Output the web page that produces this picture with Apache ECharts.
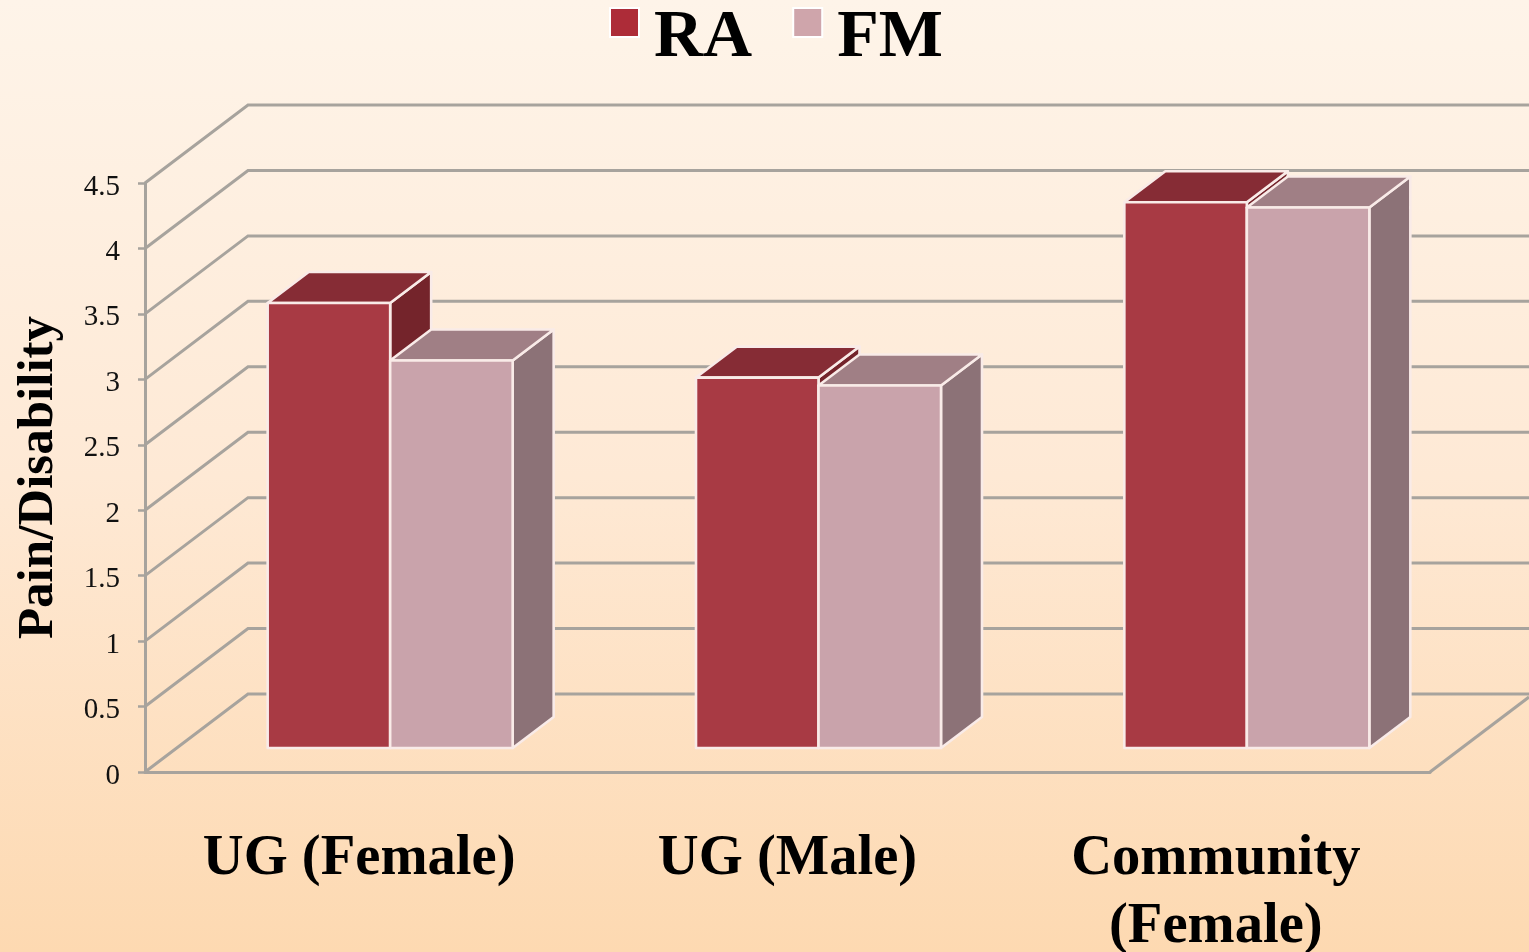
<!DOCTYPE html>
<html>
<head>
<meta charset="utf-8">
<style>html,body{margin:0;padding:0;width:100%;height:100%;overflow:hidden}#c{width:1529px;height:952px}</style>
<script src="https://cdn.jsdelivr.net/npm/echarts@6/dist/echarts.min.js"></script>
</head>
<body>
<div id="c"></div>
<script>
const categories = ['UG (Female)', 'UG (Male)', 'Community\n(Female)'];
const raValues = [3.4, 2.83, 4.17];
const fmValues = [2.96, 2.77, 4.13];
const yTicks = [0, 0.5, 1, 1.5, 2, 2.5, 3, 3.5, 4, 4.5];

const SERIF = '"Liberation Serif", serif';
const WALL = '#a7a39d';
const WALL_X = 103, WALL_Y = 78;     // projection of the back wall
const BAR_DX = 31, BAR_DY = 24;      // bars stand this far into the floor
const DEPTH_X = 41, DEPTH_Y = 31;    // bar depth
const BAR_W = 122.5;
const EDGE = '#f9ebe8';

function wallItem(params, api) {
  const cs = params.coordSys;
  const y = api.coord([0, api.value(1)])[1];
  const x0 = cs.x, x1 = cs.x + WALL_X, xEnd = 1530;
  const children = [{
    type: 'polyline',
    shape: { points: [[x0, y], [x1, y - WALL_Y], [xEnd, y - WALL_Y]] },
    style: { stroke: WALL, lineWidth: 3, fill: null }
  }];
  if (params.dataIndex === 0) {
    const xr = cs.x + cs.width;
    children.push({
      type: 'line',
      shape: { x1: xr, y1: y, x2: xr + 99, y2: y - 75 },
      style: { stroke: WALL, lineWidth: 3 }
    });
  }
  return { type: 'group', children };
}

function barRenderer(side, colors) {
  return function (params, api) {
    const i = api.value(0);
    const cx = api.coord([i, 0])[0] + BAR_DX;
    const yb = api.coord([i, 0])[1] - BAR_DY;
    const yt = api.coord([i, api.value(1)])[1] - BAR_DY;
    const xl = side === 0 ? cx - BAR_W : cx;
    const xr = xl + BAR_W;
    const s = { stroke: EDGE, lineWidth: 2.6, lineJoin: 'round' };
    return {
      type: 'group',
      children: [
        { type: 'polygon', shape: { points: [[xr, yb], [xr + DEPTH_X, yb - DEPTH_Y], [xr + DEPTH_X, yt - DEPTH_Y], [xr, yt]] },
          style: Object.assign({ fill: colors.side }, s) },
        { type: 'polygon', shape: { points: [[xl, yt], [xl + DEPTH_X, yt - DEPTH_Y], [xr + DEPTH_X, yt - DEPTH_Y], [xr, yt]] },
          style: Object.assign({ fill: colors.top }, s) },
        { type: 'rect', shape: { x: xl, y: yt, width: BAR_W, height: yb - yt },
          style: Object.assign({ fill: colors.front }, s) }
      ]
    };
  };
}

const RA_COLORS = { front: '#a83a44', top: '#862c35', side: '#74242b' };
const FM_COLORS = { front: '#c9a3ab', top: '#a07f85', side: '#8c7277' };

const chart = echarts.init(document.getElementById('c'), null, { renderer: 'canvas', width: 1529, height: 952 });
chart.setOption({
  animation: false,
  backgroundColor: {
    type: 'linear', x: 0, y: 0, x2: 0, y2: 1,
    colorStops: [{ offset: 0, color: '#fef4e9' }, { offset: 0.5, color: '#fee9d5' }, { offset: 1, color: '#fdd9b1' }]
  },
  grid: { left: 145, right: 99, top: 183, bottom: 180, outerBoundsMode: 'none' },
  legend: {
    left: 609, top: 4, padding: 0,
    selectedMode: false,
    itemWidth: 29, itemHeight: 29, itemGap: 40,
    icon: 'rect',
    data: [
      { name: 'RA', itemStyle: { color: '#ad2c38', borderColor: '#ffffff', borderWidth: 2 } },
      { name: 'FM', itemStyle: { color: '#cfa5ab', borderColor: '#ffffff', borderWidth: 2 } }
    ],
    formatter: '{a|{name}}',
    textStyle: {
      rich: { a: { fontFamily: SERIF, fontWeight: 'bold', fontSize: 68, color: '#000', padding: [31, 0, 0, 10] } }
    }
  },
  xAxis: {
    type: 'category',
    data: categories,
    axisLine: { show: true, lineStyle: { color: WALL, width: 3 } },
    axisTick: { show: false },
    axisLabel: {
      interval: 0, margin: 53, lineHeight: 68,
      fontFamily: SERIF, fontWeight: 'bold', fontSize: 56.6, color: '#000'
    }
  },
  yAxis: {
    type: 'value', min: 0, max: 4.5, interval: 0.5,
    name: 'Pain/Disability',
    nameLocation: 'middle', nameRotate: 90, nameGap: 81,
    nameTextStyle: { fontFamily: SERIF, fontWeight: 'bold', fontSize: 51, color: '#000' },
    axisLine: { show: true, lineStyle: { color: WALL, width: 3 } },
    axisTick: { show: true, length: 7, lineStyle: { color: WALL, width: 2.5 } },
    axisLabel: {
      margin: 25,
      formatter: v => '{a|' + v + '}',
      rich: { a: { fontFamily: SERIF, fontSize: 29, color: '#111', padding: [8, 0, 0, 0] } }
    },
    splitLine: { show: false }
  },
  series: [
    { name: 'wall', type: 'custom', silent: true, z: 1, renderItem: wallItem,
      encode: { x: 0, y: 1 }, data: yTicks.map(v => [0, v]) },
    { name: 'RA', type: 'custom', z: 2, renderItem: barRenderer(0, RA_COLORS), itemStyle: { color: '#ad2c38' },
      encode: { x: 0, y: 1 }, data: raValues.map((v, i) => [i, v]) },
    { name: 'FM', type: 'custom', z: 3, renderItem: barRenderer(1, FM_COLORS), itemStyle: { color: '#cfa5ab' },
      encode: { x: 0, y: 1 }, data: fmValues.map((v, i) => [i, v]) }
  ]
});
</script>
</body>
</html>
